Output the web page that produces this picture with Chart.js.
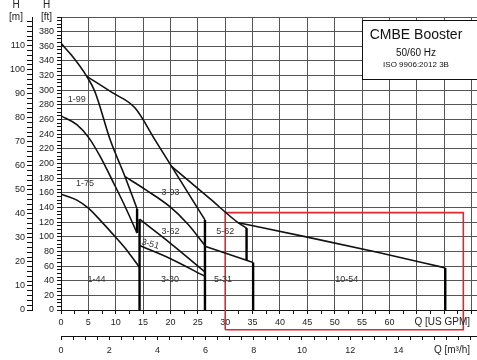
<!DOCTYPE html>
<html>
<head>
<meta charset="utf-8">
<script src="https://cdn.jsdelivr.net/npm/chart.js@4/dist/chart.umd.min.js"></script>
<style>
  html, body { margin: 0; padding: 0; background: #fff; }
  #wrap { width: 477px; height: 360px; }
</style>
</head>
<body>
<div id="wrap"><canvas id="c"></canvas></div>
<script>
// ── Pump curves (Q in US GPM, H in ft) ──
const q1_99 = [0, 1.9, 4.7, 6.2, 9.0, 11.7, 13.9];
const h1_99 = [364, 348, 319, 298, 232, 182, 138];
const q1_75 = [0, 2.9, 5.1, 7.2, 9.3, 11.6, 13.9];
const h1_75 = [265, 253, 235, 209, 178, 143, 105];
const q1_44 = [0, 2.9, 5.0, 7.1, 9.9, 12.2, 14.35];
const h1_44 = [158, 150, 139, 123, 100, 80, 58];
const q3_93 = [4.7, 9.3, 13.5, 17.2, 20.2, 26.3];
const h3_93 = [319, 297, 276, 232, 196, 123];
const q3_62 = [11.7, 15.5, 19.9, 23.2, 26.3];
const h3_62 = [182, 164, 141, 117, 88];
const q3_51 = [14.35, 20, 26.3];
const h3_51 = [124, 91, 52];
const q3_30 = [14.35, 20, 26.3];
const h3_30 = [88, 70, 46];
const q5_62 = [20.2, 27.2, 32.4, 33.9];
const h5_62 = [196, 152, 119, 112];
const q5_31 = [26.3, 35.1];
const h5_31 = [87, 65];
const q10_54 = [32.4, 45, 58, 70.2];
const h10_54 = [119, 99.5, 78.5, 57.5];

// vertical max-flow drops
const dropQ = [13.9, 14.35, 26.3, 33.9, 35.1, 70.2];
const dropTop = [138, 124, 123, 112, 65, 57.5];
const dropBottom = [105, 0, 0, 68, 0, 0];

// region labels
const regionNames = ['1-99', '1-75', '1-44', '3-93', '3-62', '3-51', '3-30', '5-62', '5-31', '10-54'];
const regionQ = [2.9, 4.4, 6.5, 20.0, 20.0, 16.3, 19.9, 30.0, 29.6, 52.2];
const regionH = [287, 172, 41, 160, 107, 90, 42, 107, 41, 41];
const regionTilt = [0, 0, 0, 0, 0, 15, 0, 0, 0, 0];

// highlighted range (red frame)
const boxQ = [30, 30, 73.5, 73.5, 30];
const boxH = [-27, 133, 133, -27, -27];

// axes
const gpmMax = 76;
const ftMax = 400;
const GPM_PER_M3H = 4.40287;
const FT_PER_M = 3.28084;

const FONT = '"Liberation Sans", Arial, sans-serif';
Chart.defaults.font.family = FONT;
Chart.defaults.color = '#222';

const curves = [
  [q1_99, h1_99], [q1_75, h1_75], [q1_44, h1_44], [q3_93, h3_93], [q3_62, h3_62],
  [q3_51, h3_51], [q3_30, h3_30], [q5_62, h5_62], [q5_31, h5_31], [q10_54, h10_54],
];

const datasets = curves.map(([q, h]) => ({
  data: q.map((v, i) => ({ x: v, y: h[i] })),
  borderColor: '#111', borderWidth: 1.6, cubicInterpolationMode: 'monotone',
}));
dropQ.forEach((q, i) => datasets.push({
  data: [{ x: q, y: dropTop[i] }, { x: q, y: dropBottom[i] }],
  borderColor: '#000', borderWidth: 2.4,
}));
datasets.push({
  data: boxQ.map((q, i) => ({ x: q, y: boxH[i] })),
  borderColor: '#e3262c', borderWidth: 1.6, clip: false, order: 5,
});

const GRID = '#555';

const overlay = {
  id: 'overlay',
  afterDatasetsDraw(chart) {
    const { ctx, scales: { x, y } } = chart;
    ctx.save();
    ctx.font = '9px ' + FONT;
    ctx.fillStyle = '#333';
    ctx.textAlign = 'center';
    ctx.textBaseline = 'middle';
    regionNames.forEach((n, i) => {
      ctx.save();
      ctx.translate(x.getPixelForValue(regionQ[i]), y.getPixelForValue(regionH[i]));
      ctx.rotate(regionTilt[i] * Math.PI / 180);
      ctx.fillText(n, 0, 0);
      ctx.restore();
    });
    ctx.restore();
  },
  afterDraw(chart) {
    const { ctx, chartArea, scales: { x, xm, y, ym } } = chart;
    ctx.save();
    // title box
    const bx = chartArea.right - 115, by = chartArea.top + 3;
    ctx.fillStyle = '#fff';
    ctx.fillRect(bx, by, 120, 59);
    ctx.strokeStyle = '#111';
    ctx.lineWidth = 1;
    ctx.strokeRect(bx + 0.5, by + 0.5, 120, 59);
    ctx.fillStyle = '#111';
    ctx.textAlign = 'center';
    ctx.textBaseline = 'middle';
    const cx = bx + 54;
    ctx.font = '14px ' + FONT;
    ctx.fillText('CMBE Booster', cx, by + 15);
    ctx.font = '10px ' + FONT;
    ctx.fillText('50/60 Hz', cx, by + 33);
    ctx.font = '8px ' + FONT;
    ctx.fillText('ISO 9906:2012 3B', cx, by + 45);

    // axis titles
    ctx.font = '10px ' + FONT;
    ctx.fillStyle = '#222';
    const mx = (ym.left + ym.right) / 2, fx = (y.left + y.right) / 2;
    ctx.fillText('H', mx, 5.5);
    ctx.fillText('[m]', mx, 17.5);
    ctx.fillText('H', fx, 5.5);
    ctx.fillText('[ft]', fx, 17.5);
    ctx.textAlign = 'right';
    ctx.fillText('Q [US GPM]', chartArea.right - 7, x.top + 12);
    ctx.fillText('Q [m\u00B3/h]', chartArea.right - 7, xm.top + 14);
    ctx.restore();
  },
};

new Chart(document.getElementById('c'), {
  type: 'line',
  data: { datasets },
  options: {
    responsive: true,
    maintainAspectRatio: false,
    animation: false,
    layout: { padding: { top: 17, left: 0, right: 0, bottom: 0 } },
    elements: { point: { radius: 0 }, line: { fill: false } },
    plugins: { legend: { display: false }, tooltip: { enabled: false } },
    scales: {
      x: {
        type: 'linear', position: 'bottom', weight: 0, min: 0, max: gpmMax,
        border: { display: true, color: '#111', width: 1 },
        grid: {
          color: c => (c.tick && c.tick.value % 5 === 0 ? GRID : 'transparent'),
          tickColor: '#111', tickLength: 4, lineWidth: 1,
        },
        ticks: {
          stepSize: 2.5, autoSkip: false, includeBounds: false, maxRotation: 0, padding: 3,
          font: { size: 9 },
          callback: v => (v % 5 === 0 && v <= 60 ? String(v) : ''),
        },
        afterFit: s => { s.height = 26; },
      },
      xm: {
        type: 'linear', position: 'bottom', weight: 1, min: 0, max: gpmMax / GPM_PER_M3H,
        border: { display: true, color: '#111', width: 1 },
        grid: { drawOnChartArea: false, tickColor: '#111', tickLength: 4 },
        ticks: {
          stepSize: 0.5, autoSkip: false, includeBounds: false, maxRotation: 0, padding: 5,
          font: { size: 9 },
          callback: v => (v % 2 === 0 && v <= 14 ? String(v) : ''),
        },
        afterFit: s => { s.height = 24; },
      },
      y: {
        type: 'linear', position: 'left', weight: 0, min: 0, max: ftMax,
        border: { display: true, color: '#111', width: 1 },
        grid: {
          color: c => (c.tick && c.tick.value % 20 === 0 ? GRID : 'transparent'),
          tickColor: '#111', tickLength: 4, lineWidth: 1,
        },
        ticks: {
          stepSize: 5, autoSkip: false, padding: 3,
          font: { size: 9 },
          callback: v => (v % 20 === 0 && v <= 380 ? String(v) : ''),
        },
        afterFit: s => { s.width = 29; },
      },
      ym: {
        type: 'linear', position: 'left', weight: 1, min: 0, max: ftMax / FT_PER_M,
        border: { display: true, color: '#111', width: 1 },
        grid: { drawOnChartArea: false, tickColor: '#111', tickLength: 5 },
        ticks: {
          stepSize: 2, autoSkip: false, includeBounds: false, padding: 2,
          font: { size: 9 },
          callback: v => (v % 10 === 0 && v <= 110 ? String(v) : ''),
        },
        afterFit: s => { s.width = 32; },
      },
    },
  },
  plugins: [overlay],
});
</script>
</body>
</html>
